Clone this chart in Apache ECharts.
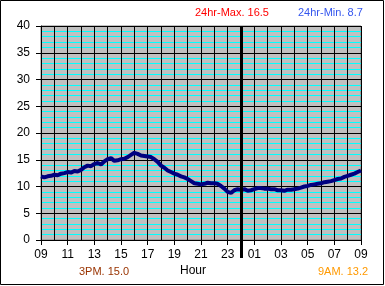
<!DOCTYPE html>
<html>
<head>
<meta charset="utf-8">
<script src="https://cdn.jsdelivr.net/npm/echarts@6/dist/echarts.min.js"></script>
<style>
  html, body { margin: 0; padding: 0; background: #fff; }
  #chart { width: 385px; height: 286px; }
</style>
</head>
<body>
<div id="chart"></div>
<script>
// hours since 09:00, every quarter hour
var hours = [
  0, 0.25, 0.5, 0.75, 1, 1.25, 1.5, 1.75, 2, 2.25, 2.5, 2.75,
  3, 3.25, 3.5, 3.75, 4, 4.25, 4.5, 4.75, 5, 5.25, 5.5, 5.75,
  6, 6.25, 6.5, 6.75, 7, 7.25, 7.5, 7.75, 8, 8.25, 8.5, 8.75,
  9, 9.25, 9.5, 9.75, 10, 10.25, 10.5, 10.75, 11, 11.25, 11.5, 11.75,
  12, 12.25, 12.5, 12.75, 13, 13.25, 13.5, 13.75, 14, 14.25, 14.5, 14.75,
  15, 15.25, 15.5, 15.75, 16, 16.25, 16.5, 16.75, 17, 17.25, 17.5, 17.75,
  18, 18.25, 18.5, 18.75, 19, 19.25, 19.5, 19.75, 20, 20.25, 20.5, 20.75,
  21, 21.25, 21.5, 21.75, 22, 22.25, 22.5, 22.75, 23, 23.25, 23.5, 23.75, 24
]
var temps = [
  11.9, 11.7, 11.9, 12.0, 12.2, 12.1, 12.4, 12.5, 12.7, 12.6, 12.9, 12.8,
  13.1, 13.6, 13.9, 13.8, 14.2, 14.4, 14.1, 14.7, 15.1, 15.3, 14.8, 14.9,
  15.1, 15.2, 15.5, 15.9, 16.3, 16.1, 15.8, 15.7, 15.6, 15.5, 15.1, 14.6,
  13.9, 13.5, 13.0, 12.7, 12.4, 12.2, 11.9, 11.7, 11.4, 11.0, 10.6, 10.5,
  10.4, 10.5, 10.7, 10.6, 10.6, 10.5, 10.1, 9.6, 9.0, 8.8, 9.3, 9.5,
  9.4, 9.5, 9.2, 9.3, 9.5, 9.7, 9.7, 9.6, 9.6, 9.5, 9.5, 9.3,
  9.3, 9.2, 9.4, 9.4, 9.5, 9.6, 9.8, 10.0, 10.1, 10.3, 10.4, 10.5,
  10.6, 10.8, 10.9, 11.0, 11.2, 11.4, 11.5, 11.8, 12.0, 12.2, 12.4, 12.7, 13.0
]
// labels every two hours on the x axis
var hourLabels = ['09', '11', '13', '15', '17', '19', '21', '23', '01', '03', '05', '07', '09']
var midnight = 15

var maxText = '24hr-Max. 16.5'
var minText = '24hr-Min. 8.7'
var pmText = '3PM. 15.0'
var amText = '9AM. 13.2'

var fontFam = 'Liberation Sans, Arial, sans-serif'

var seriesData = []
for (var i = 0; i < hours.length; i++) {
  seriesData.push([hours[i], temps[i]])
}

var chart = echarts.init(document.getElementById('chart'))
chart.setOption({
  animation: false,
  backgroundColor: '#fff',
  graphic: [{
    type: 'rect',
    shape: { x: 0.5, y: 0.5, width: 383, height: 284 },
    style: { fill: 'none', stroke: '#000', lineWidth: 1 },
    silent: true
  }],
  title: [
    { text: maxText, left: 195, top: 7, textStyle: { color: '#ff0000', fontSize: 11, fontWeight: 'normal', fontFamily: fontFam }, padding: 0 },
    { text: minText, left: 298, top: 7, textStyle: { color: '#3355ee', fontSize: 11, fontWeight: 'normal', fontFamily: fontFam }, padding: 0 },
    { text: pmText, left: 79, top: 266, textStyle: { color: '#993300', fontSize: 11, fontWeight: 'normal', fontFamily: fontFam }, padding: 0 },
    { text: 'Hour', left: 180, top: 265, textStyle: { color: '#000', fontSize: 12, fontWeight: 'normal', fontFamily: fontFam }, padding: 0 },
    { text: amText, left: 318, top: 266, textStyle: { color: '#ff9900', fontSize: 11, fontWeight: 'normal', fontFamily: fontFam }, padding: 0 }
  ],
  grid: {
    left: 41, top: 26, width: 320, height: 214,
    show: true, backgroundColor: '#c0c0c0', borderColor: '#808080', borderWidth: 1
  },
  xAxis: [{
    // hour grid lines
    type: 'value', min: 0, max: 24, interval: 1,
    axisLine: { show: true, lineStyle: { color: '#000', width: 1 } },
    axisTick: { show: false },
    axisLabel: { show: false },
    splitLine: { show: true, lineStyle: { color: '#000', width: 1 } }
  }, {
    // labels and ticks every two hours
    type: 'value', min: 0, max: 24, interval: 2, position: 'bottom',
    axisLine: { show: false },
    axisTick: { show: true, length: 5, lineStyle: { color: '#000' } },
    axisLabel: {
      color: '#000', fontSize: 12, fontFamily: fontFam, margin: 9,
      formatter: function (v) { return hourLabels[v / 2] }
    },
    splitLine: { show: false }
  }, {
    // thick midnight tick below the axis
    type: 'value', min: 0, max: 24, position: 'bottom',
    axisLine: { show: false },
    axisLabel: { show: false },
    splitLine: { show: false },
    axisTick: { show: true, customValues: [midnight], length: 18, lineStyle: { color: '#000', width: 3 } }
  }],
  yAxis: {
    type: 'value', min: 0, max: 40, interval: 5,
    axisLine: { show: true, lineStyle: { color: '#000', width: 1 } },
    axisTick: { show: true, length: 5, lineStyle: { color: '#000' } },
    axisLabel: { color: '#000', fontSize: 12, fontFamily: fontFam, margin: 11 },
    splitLine: { show: true, lineStyle: { color: '#000', width: 1 } },
    minorTick: { show: false, splitNumber: 5 },
    minorSplitLine: { show: true, lineStyle: { color: '#00ffff', width: 1 } }
  },
  series: [{
    type: 'line',
    data: seriesData,
    showSymbol: false,
    lineStyle: { color: '#000080', width: 4 },
    markLine: {
      silent: true,
      symbol: 'none',
      label: { show: false },
      lineStyle: { color: '#000', width: 3, type: 'solid' },
      data: [{ xAxis: midnight }]
    }
  }]
})
</script>
</body>
</html>
